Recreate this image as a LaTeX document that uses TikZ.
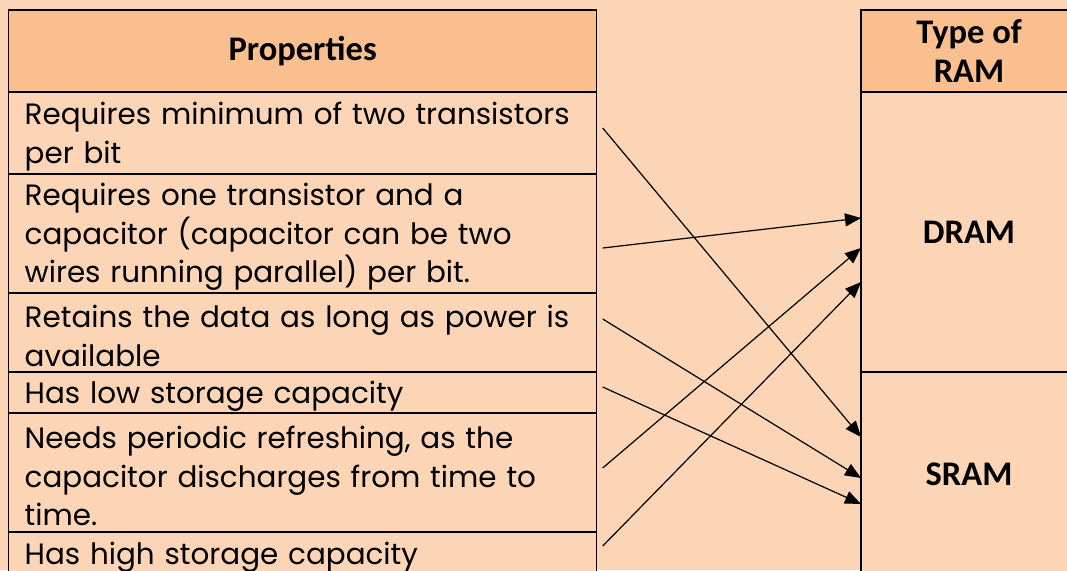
\documentclass[tikz,border=0pt]{standalone}
\usepackage{fontspec}
\setmainfont{Poppins}
\newfontfamily\hdrfamily{Carlito}
\usetikzlibrary{arrows.meta}
\definecolor{bg}{HTML}{FBD5B5}
\definecolor{hd}{HTML}{FABF8F}
\newcommand{\bodyfont}{\fontsize{29.4}{38.7}\selectfont}
\newcommand{\hdrfont}{\hdrfamily\bfseries\fontsize{34.5}{39}\selectfont}
\newcommand{\tailgap}{\endgraf\vspace{-7pt}}
\begin{document}
\begin{tikzpicture}[x=1pt,y=-1pt,
  cell/.style={draw=black, line width=1.4pt, anchor=north west, outer sep=0pt},
  body/.style={cell, fill=bg, inner xsep=16pt, inner ysep=0pt, text width=556pt, align=left, font=\bodyfont,
    execute at end node=\tailgap},
  head/.style={cell, fill=hd, inner sep=0pt, align=center, font=\hdrfont},
  typ/.style={cell, fill=bg, inner sep=0pt, minimum width=216pt, align=center, font=\hdrfont},
  arr/.style={-{Triangle[length=16pt,width=13pt]}, line width=1.2pt, black}
]
\useasboundingbox (0,0) rectangle (1067,570);
\fill[bg] (0,0) rectangle (1067,570);
% left table
\node[head, minimum width=588pt, minimum height=82pt] (hp) at (8.7,10) {Properties};
\node[body, minimum height=82pt] (r1) at (8.7,92) {Requires minimum of two transistors\\per bit};
\node[body, minimum height=119pt] (r2) at (8.7,174) {Requires one transistor and a\\capacitor (capacitor can be two\\wires running parallel) per bit.};
\node[body, minimum height=79pt] (r3) at (8.7,293) {Retains the data as long as power is\\available};
\node[body, minimum height=41pt] (r4) at (8.7,372) {Has low storage capacity};
\node[body, minimum height=119pt] (r5) at (8.7,413) {Needs periodic refreshing, as the\\capacitor discharges from time to\\time.};
\node[body, minimum height=44pt] (r6) at (8.7,532) {Has high storage capacity};
% right table
\node[head, minimum width=216pt, minimum height=82pt] (ht) at (861,10) {Type of\\RAM};
\node[typ, minimum height=280pt] (dram) at (861,92) {DRAM};
\node[typ, minimum height=204pt] (sram) at (861,372) {SRAM};
% connectors
\draw[arr] ([xshift=6pt,yshift=5pt]r1.east) -- ([yshift=37pt]sram.west);
\draw[arr] ([xshift=6pt,yshift=-14.5pt]r2.east) -- ([yshift=14pt]dram.west);
\draw[arr] ([xshift=6pt,yshift=13.5pt]r3.east) -- ([yshift=-4pt]sram.west);
\draw[arr] ([xshift=6pt,yshift=5.5pt]r4.east) -- ([yshift=-30pt]sram.west);
\draw[arr] ([xshift=6pt,yshift=4.5pt]r5.east) -- ([yshift=-16pt]dram.west);
\draw[arr] ([xshift=6pt,yshift=8pt]r6.east) -- ([yshift=-50pt]dram.west);
\end{tikzpicture}
\end{document}
